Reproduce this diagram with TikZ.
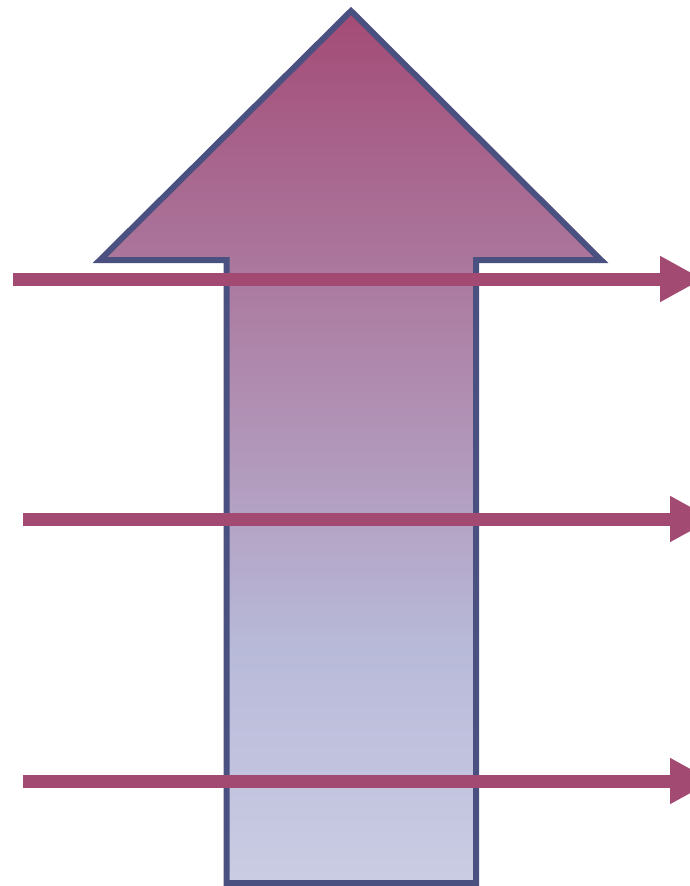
\documentclass[tikz,border=0pt]{standalone}
\usetikzlibrary{arrows.meta}
\definecolor{arrowline}{HTML}{A34A72}
\definecolor{outlineblue}{HTML}{4A5080}
\definecolor{gtop}{HTML}{A34B76}
\definecolor{gmid}{HTML}{B8BAD9}
\definecolor{gbot}{HTML}{CBCDE4}
\begin{document}
\begin{tikzpicture}[x=1pt,y=-1pt,
  crossarrow/.style={draw=arrowline,line width=13pt,line cap=butt,
    -{Triangle[length=43pt,width=43pt]}},
  bigoutline/.style={draw=outlineblue,line width=6pt,line join=miter}]
\useasboundingbox (0,0) rectangle (690,886);
\begin{scope}
\clip (0,0) rectangle (690,886);
% big arrow shape
\coordinate (tip) at (351,11);
\coordinate (rw) at (601,260);
\coordinate (rs) at (476,260);
\coordinate (rb) at (476,883);
\coordinate (lb) at (226.5,883);
\coordinate (ls) at (226.5,260);
\coordinate (lw) at (100,260);
\begin{scope}
\clip (tip) -- (rw) -- (rs) -- (rb) -- (lb) -- (ls) -- (lw) -- cycle;
\shade[top color=gtop,bottom color=gmid] (90,11) rectangle (610,650);
\shade[top color=gmid,bottom color=gbot] (90,649.5) rectangle (610,890);
\end{scope}
\path[bigoutline] (tip) -- (rw) -- (rs) -- (rb) -- (lb) -- (ls) -- (lw) -- cycle;
% crossing arrows
\coordinate (a1s) at (13,279);
\coordinate (a1e) at (703,279);
\coordinate (a2s) at (23,519);
\coordinate (a2e) at (713,519);
\coordinate (a3s) at (23,781);
\coordinate (a3e) at (713,781);
\draw[crossarrow] (a1s) -- (a1e);
\draw[crossarrow] (a2s) -- (a2e);
\draw[crossarrow] (a3s) -- (a3e);
\end{scope}
\end{tikzpicture}
\end{document}
